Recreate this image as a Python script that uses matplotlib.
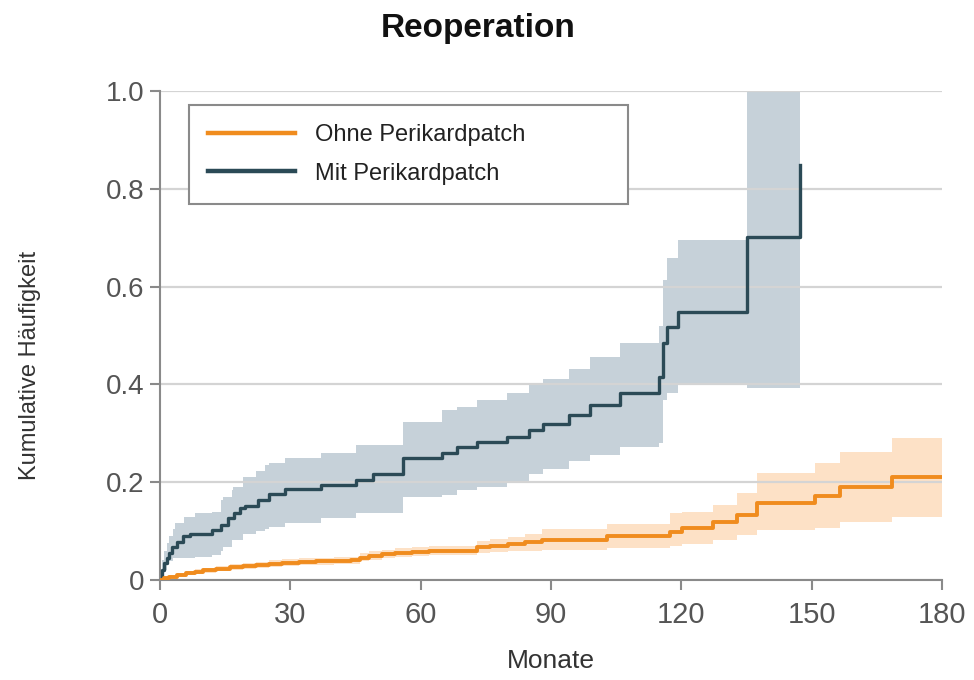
import matplotlib
matplotlib.use("Agg")
import matplotlib.pyplot as plt
from matplotlib.lines import Line2D

plt.rcParams['font.family'] = ['Liberation Sans', 'DejaVu Sans']

# Cumulative incidence of reoperation, without pericardial patch
ohne_t = [0, 1, 2, 4, 6, 8, 10, 13, 16, 19, 22, 25, 28, 32, 36, 40, 44, 46, 48, 51,
          54, 58, 62, 73, 76, 80, 84, 88, 102.8, 117.4, 120.1, 127.4, 132.8, 137.4,
          150.8, 156.5, 168.4, 180]
ohne_v = [0, .004, .007, .011, .014, .017, .020, .023, .026, .029, .031, .033, .035,
          .037, .038, .039, .040, .046, .050, .053, .056, .058, .060, .067, .070, .074,
          .078, .082, .089, .099, .106, .119, .133, .157, .172, .191, .211, .211]
ohne_hi = [0, .006, .010, .015, .018, .022, .025, .028, .032, .035, .037, .040, .042,
           .044, .045, .047, .048, .055, .059, .062, .065, .068, .070, .079, .083, .088,
           .094, .104, .115, .136, .140, .153, .177, .218, .239, .262, .290, .290]
ohne_lo = [0, .002, .004, .007, .010, .013, .015, .018, .021, .023, .025, .027, .029,
           .030, .031, .032, .033, .038, .041, .044, .047, .049, .051, .055, .057, .059,
           .060, .062, .065, .070, .074, .082, .092, .102, .106, .119, .129, .129]

# Cumulative incidence of reoperation, with pericardial patch
mit_t = [0, 0.5, 1, 1.5, 2, 2.7, 3.8, 5.4, 6.9, 12, 14, 15.7, 17, 18.4, 19.6, 22.6,
         25, 28.8, 37, 45, 49, 56, 64.8, 68.3, 72.9, 79.8, 85, 88.2, 94.2, 99, 105.9,
         114.9, 115.7, 116.6, 119.3, 135.2, 147.3]
mit_v = [0, .020, .034, .045, .055, .068, .078, .089, .095, .102, .112, .126, .136,
         .147, .152, .164, .175, .186, .195, .205, .217, .249, .259, .271, .283, .293,
         .307, .320, .337, .358, .382, .416, .484, .518, .549, .702, .849]

mit_ci_t = [0, 0.5, 1, 1.5, 2, 3, 3.5, 5.5, 8, 12, 14, 14.5, 16.5, 16.8, 19, 22, 24.2,
            25, 28.8, 37, 45, 56, 64.8, 68.3, 72.9, 79.8, 85, 88.2, 94.2, 99, 105.9,
            114.9, 115.7, 116.6, 119.3, 135.2, 147.3]
mit_hi = [0, .040, .060, .075, .089, .105, .116, .129, .136, .140, .164, .170, .185,
          .191, .211, .222, .235, .240, .249, .259, .276, .324, .348, .354, .368, .382,
          .401, .411, .431, .457, .484, .520, .613, .658, .695, 1.0, 1.0]
mit_lo = [0, .005, .020, .034, .038, .044, .044, .046, .048, .051, .060, .068, .082,
          .082, .095, .100, .105, .109, .116, .126, .136, .170, .174, .184, .191, .203,
          .216, .226, .244, .256, .273, .280, .368, .382, .399, .392, .392]

x_ticks = [0, 30, 60, 90, 120, 150, 180]
y_ticks = [0, 0.2, 0.4, 0.6, 0.8, 1.0]
y_ticklabels = ["0", "0.2", "0.4", "0.6", "0.8", "1.0"]
series_labels = ["Ohne Perikardpatch", "Mit Perikardpatch"]

orange = "#f08c1e"
orange_band = "#fde1c6"
navy = "#2b4a56"
navy_band = "#c6d1d9"

fig = plt.figure(figsize=(9.74, 6.8), dpi=100)
ax = fig.add_axes([160 / 974, 100 / 680, 782 / 974, 489 / 680])

ax.fill_between(mit_ci_t, mit_lo, mit_hi, step="post", color=navy_band, lw=0, zorder=1)
ax.fill_between(ohne_t, ohne_lo, ohne_hi, step="post", color=orange_band, lw=0, zorder=1)
ax.step(mit_t, mit_v, where="post", color=navy, lw=2.4, zorder=3)
ax.step(ohne_t, ohne_v, where="post", color=orange, lw=2.8, zorder=3)

ax.set_xlim(0, 180)
ax.set_ylim(0, 1.0)
ax.set_xticks(x_ticks)
ax.set_yticks(y_ticks)
ax.set_yticklabels(y_ticklabels)
ax.set_axisbelow("line")
ax.yaxis.grid(True, color="#d4d4d4", lw=1.6)
ax.xaxis.grid(False)

for side in ("top", "right"):
    ax.spines[side].set_visible(False)
for side in ("left", "bottom"):
    ax.spines[side].set_color("#8a8a8a")
    ax.spines[side].set_linewidth(1.5)

ax.tick_params(axis="both", colors="#8a8a8a", width=1.5, length=7,
               labelcolor="#555555")
ax.tick_params(axis="y", labelsize=20, pad=4)
ax.tick_params(axis="x", labelsize=21, pad=8)

fig.text(0.491, 1 - 28 / 680, "Reoperation", ha="center", va="center",
         fontsize=24, fontweight="bold", color="#111111")
fig.text(30 / 974, 1 - 365 / 680, "Kumulative Häufigkeit", rotation=90,
         ha="center", va="center", fontsize=17, color="#333333")
fig.text(551 / 974, 1 - 661 / 680, "Monate", ha="center", va="center",
         fontsize=19, color="#333333")

handles = [Line2D([], [], color=orange, lw=3.2), Line2D([], [], color=navy, lw=3.2)]
leg_top = 1 - 105 / 680
leg = fig.legend(handles, series_labels, loc="upper left",
                 bbox_to_anchor=(189 / 974, leg_top - 0.01, (628 - 189) / 974, 0.01),
                 mode="expand", fontsize=17, fancybox=False, framealpha=1,
                 edgecolor="#8a8a8a", borderpad=0.8, handlelength=3.7,
                 handletextpad=0.85, labelspacing=0.71, borderaxespad=0)
leg.get_frame().set_linewidth(1.5)
for t in leg.get_texts():
    t.set_color("#222222")

fig.savefig("out.png", dpi=100)
